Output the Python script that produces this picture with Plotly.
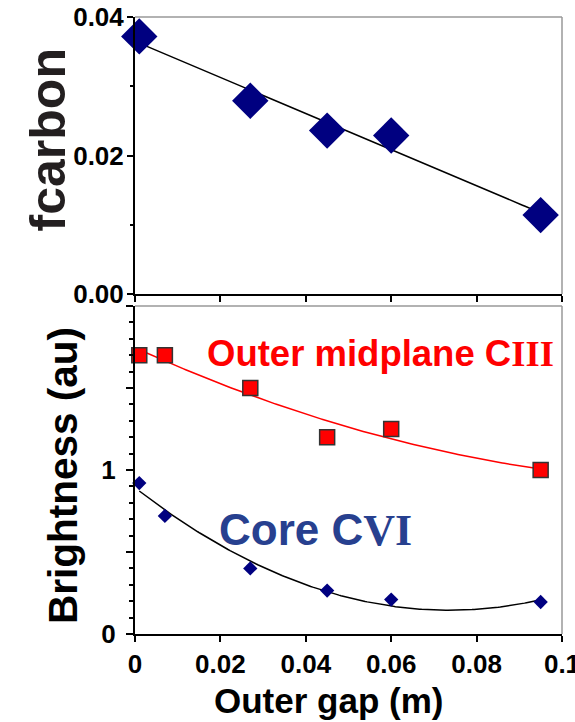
import numpy as np
import plotly.graph_objects as go

# ---- data ----
gap_top = [0.001, 0.027, 0.045, 0.060, 0.095]
fcarbon = [0.0372, 0.0279, 0.0236, 0.0229, 0.0114]

gap_bot = [0.001, 0.007, 0.027, 0.045, 0.060, 0.095]
ciii = [1.70, 1.70, 1.50, 1.20, 1.25, 1.00]
cvi = [0.92, 0.72, 0.40, 0.265, 0.21, 0.195]

x_ticks = [0, 0.02, 0.04, 0.06, 0.08, 0.1]
x_ticktext = ["0", "0.02", "0.04", "0.06", "0.08", "0.1"]
top_yticks = [0, 0.02, 0.04]
top_yticktext = ["0.00", "0.02", "0.04"]
bot_yticks = [0, 0.5, 1, 1.5, 2]
bot_yticktext = ["0", "", "1", "", ""]

SANS = "Liberation Sans, Arial, Helvetica, sans-serif"
SERIF = "Liberation Serif, Times New Roman, serif"
NAVY = "#000080"
RED = "#ff0000"
CBLUE = "#27408f"

# fits (trendlines)
xf = np.linspace(min(gap_top), max(gap_top), 200)
p1 = np.polyfit(gap_top, fcarbon, 1)
xb = np.linspace(min(gap_bot), max(gap_bot), 200)
p_red = np.polyfit(gap_bot, ciii, 2)
p_blue = np.polyfit(gap_bot, cvi, 2)

fig = go.Figure()
fig.add_trace(go.Scatter(x=xf, y=np.polyval(p1, xf), mode="lines",
                         line=dict(color="black", width=1.5), xaxis="x", yaxis="y"))
fig.add_trace(go.Scatter(x=gap_top, y=fcarbon, mode="markers",
                         marker=dict(symbol="diamond", size=28, color=NAVY, line=dict(width=0)),
                         xaxis="x", yaxis="y", cliponaxis=False))

fig.add_trace(go.Scatter(x=xb, y=np.polyval(p_red, xb), mode="lines",
                         line=dict(color=RED, width=1.5), xaxis="x2", yaxis="y2"))
fig.add_trace(go.Scatter(x=xb, y=np.polyval(p_blue, xb), mode="lines",
                         line=dict(color="black", width=1.5), xaxis="x2", yaxis="y2"))
fig.add_trace(go.Scatter(x=gap_bot, y=ciii, mode="markers",
                         marker=dict(symbol="square", size=15, color=RED,
                                     line=dict(width=1.5, color="#333333")),
                         xaxis="x2", yaxis="y2", cliponaxis=False))
fig.add_trace(go.Scatter(x=gap_bot, y=cvi, mode="markers",
                         marker=dict(symbol="diamond", size=11, color=NAVY, line=dict(width=0)),
                         xaxis="x2", yaxis="y2", cliponaxis=False))

tickfont = dict(family=SANS, size=26, color="black", weight=700)
axis_common = dict(showline=True, linecolor="black", linewidth=2, ticks="outside",
                   tickcolor="black", tickwidth=1.5, showgrid=False, zeroline=False,
                   tickfont=tickfont, ticklabeloverflow="allow", automargin=False)

fig.update_layout(
    width=575, height=722,
    margin=dict(l=135, r=13, t=17, b=88),
    paper_bgcolor="white", plot_bgcolor="white",
    showlegend=False,
    xaxis=dict(domain=[0, 1], range=[0, 0.1], tickvals=x_ticks, showticklabels=False,
               ticklen=6, anchor="y", **axis_common),
    yaxis=dict(domain=[0.551, 1], range=[0, 0.04], tickvals=top_yticks, ticktext=top_yticktext,
               ticklen=6, anchor="x", ticklabelstandoff=-2,
               minor=dict(dtick=0.01, ticks="outside", ticklen=3, tickcolor="black", tickwidth=1.5),
               **axis_common),
    xaxis2=dict(domain=[0, 1], range=[0, 0.1], tickvals=x_ticks, ticktext=x_ticktext,
                ticklen=6, anchor="y2", **axis_common),
    yaxis2=dict(domain=[0, 0.5316], range=[0, 2], tickvals=bot_yticks, ticktext=bot_yticktext,
                ticklen=7, anchor="x2", ticklabelstandoff=5,
                minor=dict(dtick=0.1, ticks="outside", ticklen=4, tickcolor="black", tickwidth=1.5),
                **axis_common),
)

# gray top/right frame lines
for xr, yr in (("x domain", "y domain"), ("x2 domain", "y2 domain")):
    fig.add_shape(type="line", xref=xr, yref=yr, x0=0, x1=1, y0=1, y1=1,
                  line=dict(color="#999999", width=1.5))
    fig.add_shape(type="line", xref=xr, yref=yr, x0=1, x1=1, y0=0, y1=1,
                  line=dict(color="#999999", width=1.5))

fig.add_annotation(text="Outer midplane C<span style='font-family:Liberation Serif'>III</span>",
                   xref="x2", yref="y2", x=0.0165, y=1.713, xanchor="left", yanchor="middle",
                   showarrow=False, font=dict(family=SANS, size=36.5, color=RED, weight=700))
fig.add_annotation(text="Core C<span style='font-family:Liberation Serif'>VI</span>",
                   xref="x2", yref="y2", x=0.0193, y=0.634, xanchor="left", yanchor="middle",
                   showarrow=False, font=dict(family=SANS, size=44, color=CBLUE, weight=700))

fig.add_annotation(text="fcarbon", xref="paper", yref="paper", x=-0.2037, y=0.80,
                   xanchor="center", yanchor="middle", textangle=-90, showarrow=False,
                   font=dict(family=SANS, size=50, color="#231f20", weight=700))
fig.add_annotation(text="Brightness (au)", xref="paper", yref="paper", x=-0.1686, y=0.256,
                   xanchor="center", yanchor="middle", textangle=-90, showarrow=False,
                   font=dict(family=SANS, size=40.5, color="black", weight=700))
fig.add_annotation(text="Outer gap (m)", xref="paper", yref="paper", x=0.454, y=-0.107,
                   xanchor="center", yanchor="middle", showarrow=False,
                   font=dict(family=SANS, size=35, color="black", weight=700))

fig.write_html("out.html")
